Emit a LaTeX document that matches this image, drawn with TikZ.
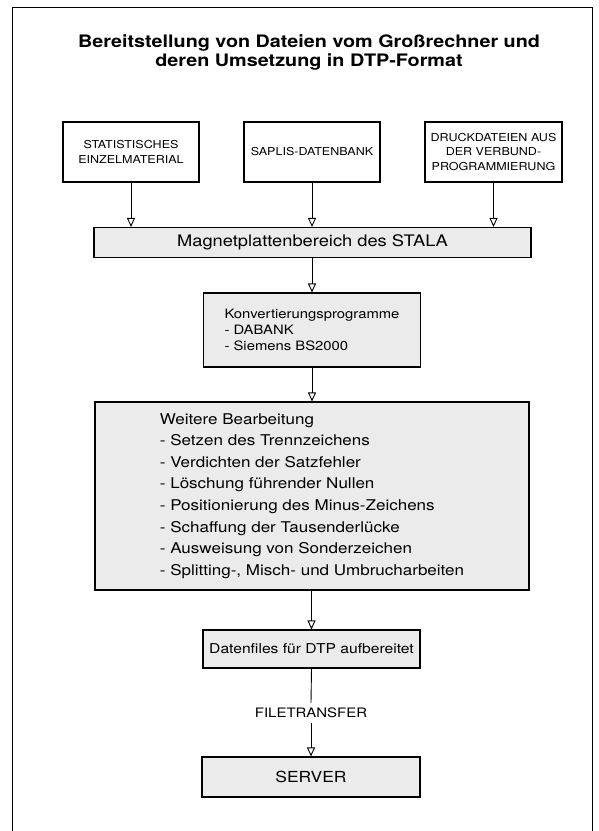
\documentclass[tikz,border=0pt]{standalone}
\usepackage{fontspec}
\setmainfont{TeX Gyre Heros}[FakeStretch=1.15]
\definecolor{ScanGray}{gray}{0.92}
\usetikzlibrary{arrows.meta, positioning}

\begin{document}
\begin{tikzpicture}[x=1pt, y=-1pt,
    every node/.style={inner sep=0pt},
    srcbox/.style={draw, line width=1.1pt, minimum width=136pt, minimum height=60pt,
      align=center, font=\fontsize{10.9}{14.5}\selectfont},
    flowbox/.style={draw, line width=1.1pt, fill=ScanGray},
    arr/.style={-{Triangle[open, length=9pt, width=8pt]}, line width=0.9pt}
  ]
  \useasboundingbox (0,0) rectangle (598,831);
  % frame, open at the bottom
  \draw[line width=1pt] (12,831) -- (12,7) -- (592,7) -- (592,831);

  \node[font=\fontsize{17.2}{19}\selectfont\bfseries, align=center] (title) at (309,52)
       {Bereitstellung von Dateien vom Großrechner und\\deren Umsetzung in DTP-Format};

  % sources
  \node[srcbox] (stat) at (131,152) {STATISTISCHES\\EINZELMATERIAL};
  \node[srcbox] (saplis) at (312,152) {SAPLIS-DATENBANK};
  \node[srcbox, minimum width=137pt] (druck) at (493.5,152)
       {DRUCKDATEIEN AUS\\DER VERBUND-\\PROGRAMMIERUNG};

  % processing chain
  \node[flowbox, minimum width=437pt, minimum height=30pt,
        font=\fontsize{15.9}{18}\selectfont] (magnet) at (312.5,242.5)
       {Magnetplattenbereich des STALA};
  \node[flowbox, minimum width=217pt, minimum height=74pt, align=left,
        font=\fontsize{12.9}{16}\selectfont] (konv) at (312,330)
       {Konvertierungsprogramme\\- DABANK\\- Siemens BS2000};
  \node[flowbox, minimum width=434pt, minimum height=188pt, align=left,
        font=\fontsize{14.8}{21.6}\selectfont] (weitere) at (312,496)
       {Weitere Bearbeitung\\
        - Setzen des Trennzeichens\\
        - Verdichten der Satzfehler\\
        - Löschung führender Nullen\\
        - Positionierung des Minus-Zeichens\\
        - Schaffung der Tausenderlücke\\
        - Ausweisung von Sonderzeichen\\
        - Splitting-, Misch- und Umbrucharbeiten};
  \node[flowbox, minimum width=217pt, minimum height=38pt,
        font=\fontsize{13.6}{16}\selectfont] (daten) at (311.5,649)
       {Datenfiles für DTP aufbereitet};
  \node[inner sep=5pt, font=\fontsize{13}{15}\selectfont] (ftrans) at (311,713) {FILETRANSFER};
  \node[flowbox, minimum width=218pt, minimum height=40pt,
        font=\fontsize{15.2}{18}\selectfont] (server) at (311,777) {SERVER};

  % connectors
  \draw[arr] (stat.south) -- (stat.south |- magnet.north);
  \draw[arr] (saplis.south) -- (saplis.south |- magnet.north);
  \draw[arr] (druck.south) -- (druck.south |- magnet.north);
  \draw[arr] (magnet.south -| konv.north) -- (konv.north);
  \draw[arr] (konv.south) -- (konv.south |- weitere.north);
  \draw[arr] (weitere.south -| daten.north) -- (daten.north);
  \draw[line width=0.9pt] (daten.south) -- (ftrans.north);
  \draw[arr] (ftrans.south) -- (server.north);
\end{tikzpicture}
\end{document}
